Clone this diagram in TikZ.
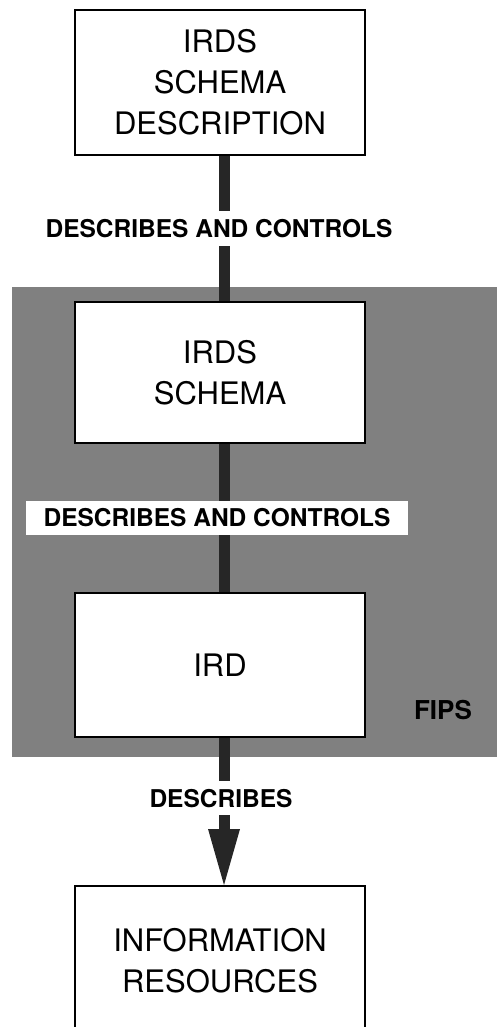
\documentclass[tikz,border=0pt]{standalone}
\usepackage{fontspec}
\setmainfont{TeX Gyre Heros}
\usetikzlibrary{arrows.meta,positioning}
\tikzset
{
    irdsbox/.style  = {rectangle, draw=black, line width=1.5pt, fill=white, align=center, minimum width=290pt, inner sep=0pt, font=\fontsize{31}{41}\selectfont},
    relation/.style = {fill=white, inner xsep=18pt, inner ysep=8pt, font=\fontsize{24.5}{28}\selectfont\bfseries},
    link/.style     = {draw=black!85, line width=11pt},
    linkarrow/.style= {link, -{Triangle[width=32pt, length=56pt, line width=0pt]}},
    fipsarea/.style = {fill=black!50},
}

\begin{document}
\begin{tikzpicture}[x=1pt, y=-1pt]

   \newcommand\LINKDX{4pt}

   \useasboundingbox (0,0) rectangle (497,1027);

   % shaded FIPS area
   \fill[fipsarea] (12,287) rectangle (497,757);
   \node (fips) [font=\fontsize{26}{30}\selectfont\bfseries] at (443,710) {FIPS};

   \node (desc)   [irdsbox, minimum height=145pt]               at (220, 82.5)  {IRDS\\SCHEMA\\DESCRIPTION};
   \node (schema) [irdsbox, minimum height=141pt]               at (220, 372.5) {IRDS\\SCHEMA};
   \node (ird)    [irdsbox, minimum height=144pt]               at (220, 665)   {IRD};
   \node (res)    [irdsbox, minimum height=150pt, anchor=north] at (220, 885)   {INFORMATION\\RESOURCES};

   \path
      ([xshift=\LINKDX]desc.south)   edge[link]      node[relation, xshift=-5pt] {DESCRIBES AND CONTROLS} ([xshift=\LINKDX]schema.north)
      ([xshift=\LINKDX]schema.south) edge[link]      node[relation, xshift=-7pt] {DESCRIBES AND CONTROLS} ([xshift=\LINKDX]ird.north)
      ([xshift=\LINKDX]ird.south)    edge[linkarrow] node[relation, pos=0.41, xshift=-3pt] {DESCRIBES} ([xshift=\LINKDX]res.north);

\end{tikzpicture}
\end{document}
